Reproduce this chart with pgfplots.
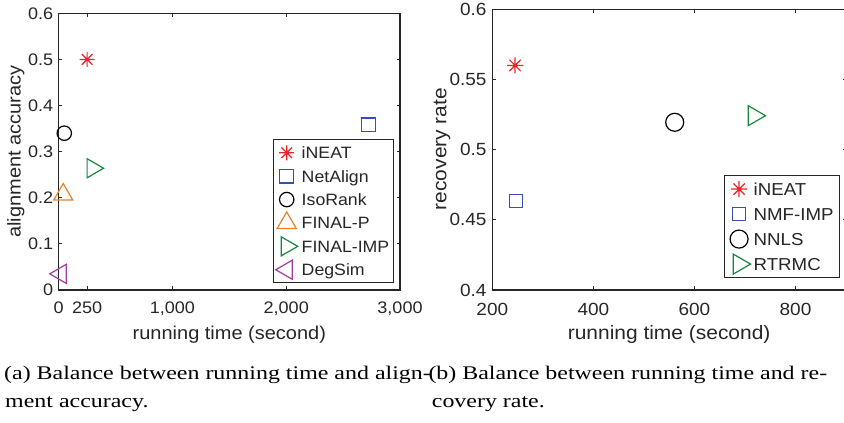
\documentclass[border=0pt]{standalone}
\usepackage{fontspec}
\setmainfont{Liberation Sans}[FakeStretch=1.08]
\newfontfamily\capfont{Liberation Serif}[FakeStretch=1.24]
\usepackage{pgfplots}
\pgfplotsset{compat=1.18}

\definecolor{axgray}{HTML}{262626}
\definecolor{mred}{HTML}{EE2229}
\definecolor{netblue}{RGB}{52,80,176}
\definecolor{morange}{HTML}{E5832B}
\definecolor{mgreen}{HTML}{17873D}
\definecolor{mpurple}{HTML}{A43C9F}

% MATLAB-like 8-spoke asterisk
\pgfdeclareplotmark{ast8}{%
  \pgfpathmoveto{\pgfqpoint{0pt}{\pgfplotmarksize}}%
  \pgfpathlineto{\pgfqpoint{0pt}{-\pgfplotmarksize}}%
  \pgfpathmoveto{\pgfqpoint{\pgfplotmarksize}{0pt}}%
  \pgfpathlineto{\pgfqpoint{-\pgfplotmarksize}{0pt}}%
  \pgfpathmoveto{\pgfqpoint{.7071\pgfplotmarksize}{.7071\pgfplotmarksize}}%
  \pgfpathlineto{\pgfqpoint{-.7071\pgfplotmarksize}{-.7071\pgfplotmarksize}}%
  \pgfpathmoveto{\pgfqpoint{-.7071\pgfplotmarksize}{.7071\pgfplotmarksize}}%
  \pgfpathlineto{\pgfqpoint{.7071\pgfplotmarksize}{-.7071\pgfplotmarksize}}%
  \pgfusepathqstroke}
% plain open square
\pgfdeclareplotmark{sqr}{%
  \pgfpathrectangle{\pgfqpoint{-\pgfplotmarksize}{-\pgfplotmarksize}}%
    {\pgfqpoint{2\pgfplotmarksize}{2\pgfplotmarksize}}%
  \pgfusepathqstroke}

\pgfplotsset{
  pt/.style={only marks, line width=1.2pt,
    legend image code/.code={\path[draw=none, fill=none] (-9pt,-6pt) rectangle (9pt,6pt);
      \draw[##1,overlay] plot coordinates {(0pt,0pt)};}},
  mfig/.style={scale only axis, clip=false,
    axis line style={axgray, line width=1.1pt},
    tick align=inside, tick pos=both, major tick length=3.5pt,
    every tick/.style={axgray, line width=1pt},
    tick label style={text=axgray},
    /pgf/number format/assume math mode=true,
    legend cell align=left,
    xticklabel style={anchor=north, inner sep=0pt, yshift=-11.7pt},
    yticklabel style={anchor=east, inner sep=0pt, xshift=-5.4pt}},
}

\begin{document}
\begin{tikzpicture}
\useasboundingbox (0,0) rectangle (844pt,423pt);
\clip (0,0) rectangle (844pt,423pt);

% (a) running time vs alignment accuracy
\begin{axis}[mfig,
  at={(58.7pt,133pt)}, anchor=south west,
  width=341.3pt, height=276.7pt,
  xmin=0, xmax=3000, ymin=0, ymax=0.6,
  xtick={0,250,1000,2000,3000},
  xticklabels={0,250,{1,000},{2,000},{3,000}},
  ytick={0,0.1,0.2,0.3,0.4,0.5,0.6},
  yticklabels={0,0.1,0.2,0.3,0.4,0.5,0.6},
  tick label style={font=\fontsize{16.7}{18}\selectfont},
  xlabel={running time (second)}, ylabel={alignment accuracy},
  every axis x label/.style={at={(axis description cs:0.5,-0.161)}, anchor=center,
    text=axgray, font=\fontsize{18.5}{20}\selectfont},
  every axis y label/.style={at={(axis description cs:-0.1257,0.5)}, rotate=90, anchor=center,
    text=axgray, font=\fontsize{18.5}{20}\selectfont},
  legend style={at={(0.9833,0.0242)}, anchor=south east,
    draw=axgray, line width=1pt, fill=white,
    inner xsep=4.5pt, inner ysep=5.9pt, row sep=9.1pt, column sep=6pt,
    font=\fontsize{16.4}{18}\selectfont, text=axgray,
    nodes={inner sep=0pt, text height=13pt, text depth=1.3pt}},
]
\addplot[pt, color=mred, mark=ast8, mark size=7.5pt] coordinates {(250,0.500)};
\addlegendentry{iNEAT}
\addplot[pt, color=netblue, mark=sqr, mark size=6.9pt] coordinates {(2721,0.358)};
\addlegendentry{NetAlign}
\addplot[pt, color=black, mark=o, mark size=7.2pt] coordinates {(49,0.340)};
\addlegendentry{IsoRank}
\addplot[pt, color=morange, mark=triangle, mark size=11pt] coordinates {(40,0.207)};
\addlegendentry{FINAL-P}
\addplot[pt, color=mgreen, mark=triangle, mark size=11pt, mark options={rotate=-90}] coordinates {(298,0.264)};
\addlegendentry{FINAL-IMP}
\addplot[pt, color=mpurple, mark=triangle, mark size=11pt, mark options={rotate=90}] coordinates {(18,0.035)};
\addlegendentry{DegSim}
\end{axis}

% (b) running time vs recovery rate
\begin{axis}[mfig,
  at={(492.3pt,133pt)}, anchor=south west,
  width=353.7pt, height=280.7pt,
  xmin=200, xmax=900, ymin=0.4, ymax=0.6,
  xtick={200,400,600,800},
  xticklabels={200,400,600,800},
  ytick={0.4,0.45,0.5,0.55,0.6},
  yticklabels={0.4,0.45,0.5,0.55,0.6},
  tick label style={font=\fontsize{17.6}{19}\selectfont},
  xticklabel style={yshift=-1.6pt},
  yticklabel style={xshift=-0.2pt},
  xlabel={running time (second)}, ylabel={recovery rate},
  every axis x label/.style={at={(axis description cs:0.5,-0.158)}, anchor=center,
    text=axgray, font=\fontsize{19.4}{21}\selectfont},
  every axis y label/.style={at={(axis description cs:-0.142,0.502)}, rotate=90, anchor=center,
    text=axgray, font=\fontsize{19.4}{21}\selectfont},
  legend style={at={(0.983,0.0417)}, anchor=south east,
    draw=axgray, line width=1pt, fill=white,
    inner xsep=5.9pt, inner ysep=6.2pt, row sep=10pt, column sep=5.6pt,
    font=\fontsize{17.3}{19}\selectfont, text=axgray,
    nodes={inner sep=0pt, text height=13.7pt, text depth=1.3pt}},
]
\addplot[pt, color=mred, mark=ast8, mark size=8pt] coordinates {(245,0.560)};
\addlegendentry{iNEAT}
\addplot[pt, color=netblue, mark=sqr, mark size=6.7pt] coordinates {(247,0.4634)};
\addlegendentry{NMF-IMP}
\addplot[pt, color=black, mark=o, mark size=9pt] coordinates {(561,0.5195)};
\addlegendentry{NNLS}
\addplot[pt, color=mgreen, mark=triangle, mark size=11.5pt, mark options={rotate=-90}] coordinates {(718,0.5242)};
\addlegendentry{RTRMC}
\end{axis}

% sub-captions
\begin{scope}[every node/.style={anchor=base west, inner sep=0pt, text=black,
    font=\capfont\fontsize{19.3}{21}\selectfont}]
\node at (4pt,43pt) {(a) Balance between running time and align-};
\node at (5pt,15pt) {ment accuracy.};
\node at (428.3pt,43pt) {(b) Balance between running time and re-};
\node at (431.7pt,15pt) {covery rate.};
\end{scope}
\end{tikzpicture}
\end{document}
